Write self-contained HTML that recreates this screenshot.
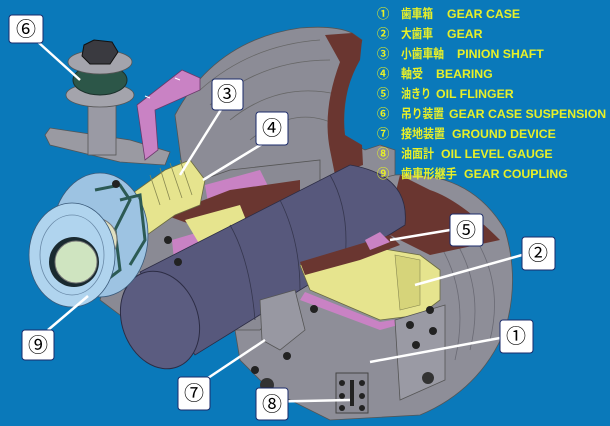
<!DOCTYPE html>
<html><head><meta charset="utf-8"><style>
html,body{margin:0;padding:0;background:#0a79ba;}
svg{display:block}
.lg{font-family:"Liberation Sans","Noto Sans CJK JP",sans-serif;font-weight:bold;font-size:12.3px;fill:#e8f028}
.bx{fill:#fff;stroke:#1a2a6a;stroke-width:1}
.bn{font-family:"Liberation Sans","Noto Sans CJK JP",sans-serif;font-size:20px;fill:#000;text-anchor:middle}
</style></head><body>
<svg width="610" height="426" viewBox="0 0 610 426" xmlns="http://www.w3.org/2000/svg">
<rect width="610" height="426" fill="#0a79ba"/>
<path d="M175,115 Q215,40 300,28 Q335,25 352,33 L362,40 L357,60 Q340,100 345,140 L365,150 L380,145 L395,150 L395,200 L330,260 L200,300 Z" fill="#8c8c96" stroke="#555" stroke-width="0.8"/>
<path d="M200,90 Q250,45 320,40 M210,105 Q260,60 330,60 M230,120 Q280,80 340,95 M250,140 Q300,100 345,130" stroke="#666" fill="none" stroke-width="0.8"/>
<path d="M325,35 L352,33 L362,40 L360,60 Q340,95 345,135 L362,145 L363,165 L335,175 L330,150 Q322,110 340,62 Z" fill="#6a3630"/>
<path d="M330,190 L395,175 Q470,170 505,230 Q520,280 505,330 Q480,390 420,415 L330,420 L270,390 L240,360 L230,300 Z" fill="#8e8e98" stroke="#555" stroke-width="0.8"/>
<path d="M470,230 Q505,280 490,340 M455,240 Q485,290 470,350 M440,245 Q470,295 455,360" stroke="#6a6a74" fill="none" stroke-width="0.8"/>
<path d="M400,175 L430,190 Q460,200 500,240 L430,255 L380,230 L395,195 Z" fill="#6a3630"/>
<path d="M130,205 L230,170 L320,160 L320,260 L260,330 L140,330 L100,300 Z" fill="#8a8a94" stroke="#555" stroke-width="0.8"/>
<path d="M45,135 L50,128 L130,140 L170,152 L165,165 L120,162 L50,145 Z" fill="#9a9aa2" stroke="#555" stroke-width="0.8"/>
<rect x="88" y="100" width="28" height="55" fill="#9a9aa4" stroke="#555" stroke-width="0.8"/>
<ellipse cx="100" cy="95" rx="34" ry="12" fill="#a4a4ac" stroke="#555" stroke-width="0.8"/>
<ellipse cx="100" cy="80" rx="27" ry="15" fill="#2c5648" stroke="#1b2f2a"/>
<ellipse cx="100" cy="62" rx="32" ry="12" fill="#a4a4ac" stroke="#555" stroke-width="0.8"/>
<path d="M84,45 L94,40 L112,42 L118,52 L110,64 L90,64 L82,56 Z" fill="#3a3a40" stroke="#111"/>
<path d="M137,105 L182,70 L200,78 L200,90 L155,110 L158,150 L145,160 Z" fill="#c982c4" stroke="#6a3a6a" stroke-width="0.8"/>
<path d="M145,96 L150,98 M175,78 L180,80" stroke="#fff"/>
<path d="M205,185 L260,170 L270,190 L210,215 Z" fill="#c982c4"/>
<path d="M172,240 L240,220 L260,225 L200,260 L175,270 Z" fill="#c982c4"/>
<path d="M165,215 L230,190 L300,180 L300,215 L220,235 Z" fill="#6a3630"/>
<path d="M130,195 L165,170 L190,160 L205,180 L200,205 L175,215 L140,240 L115,235 Z" fill="#e6e48e" stroke="#6a6a40" stroke-width="0.8"/>
<path d="M150,175 L160,205 M160,168 L170,200 M170,163 L182,198 M180,160 L192,195" stroke="#888850" stroke-width="0.8"/>
<path d="M185,220 L240,205 L250,230 L200,245 Z" fill="#e6e48e"/>
<path d="M140,272 L350,165 Q410,175 405,225 L195,355 Z" fill="#57587c" stroke="#2c2c44" stroke-width="0.8"/>
<path d="M230,225 Q250,260 255,320 M280,200 Q300,240 300,290 M330,175 Q350,210 345,260" stroke="#35364e" fill="none" stroke-width="0.8"/>
<ellipse cx="160" cy="320" rx="38" ry="50" transform="rotate(-20 160 320)" fill="#5b5c80" stroke="#2c2c44"/>
<path d="M300,265 L330,255 L360,245 L390,250 L420,255 L440,270 L440,300 L420,315 L380,320 L345,305 L310,290 Z" fill="#e6e48e" stroke="#6a6a40" stroke-width="0.8"/>
<path d="M395,255 L420,260 L420,305 L400,310 Z" fill="#d6d47a" stroke="#888850" stroke-width="0.6"/>
<path d="M300,262 L340,250 L390,235 L400,245 L360,260 L305,275 Z" fill="#6a3630"/>
<path d="M365,240 L380,232 L390,242 L370,250 Z" fill="#c982c4"/>
<path d="M305,292 L345,308 L380,322 L425,315 L445,305 L445,312 L380,330 L300,300 Z" fill="#c982c4"/>
<path d="M395,320 L445,305 L445,380 L400,400 Z" fill="#9a9aa4" stroke="#555" stroke-width="0.8"/>
<circle cx="430" cy="310" r="4" fill="#222"/><circle cx="410" cy="325" r="4" fill="#222"/><circle cx="416" cy="345" r="4" fill="#222"/><circle cx="433" cy="331" r="4" fill="#222"/>
<circle cx="428" cy="378" r="6" fill="#333"/>
<path d="M260,300 L295,290 L305,330 L280,350 L262,340 Z" fill="#9898a2" stroke="#555" stroke-width="0.8"/>
<circle cx="287" cy="356" r="4" fill="#222"/><circle cx="314" cy="309" r="4" fill="#222"/><circle cx="255" cy="370" r="4" fill="#222"/>
<circle cx="267" cy="385" r="7" fill="#333"/>
<rect x="336" y="373" width="32" height="40" fill="#8a8a94" stroke="#444"/>
<rect x="350" y="380" width="4" height="26" fill="#222"/>
<circle cx="342" cy="383" r="3" fill="#222"/><circle cx="342" cy="396" r="3" fill="#222"/><circle cx="342" cy="408" r="3" fill="#222"/><circle cx="362" cy="383" r="3" fill="#222"/><circle cx="362" cy="396" r="3" fill="#222"/><circle cx="362" cy="408" r="3" fill="#222"/>
<ellipse cx="100" cy="235" rx="48" ry="62" fill="#9dc3e2" stroke="#3a5a7a" stroke-width="0.8"/>
<path d="M95,190 L120,185 L130,200 L115,230 L120,270 L100,285" stroke="#2c5a54" stroke-width="3" fill="none"/>
<path d="M120,200 L140,195 L145,240 L130,265" stroke="#2c5a54" stroke-width="3" fill="none"/>
<circle cx="95" cy="240" r="22" fill="#e0e0c0" stroke="#777"/>
<ellipse cx="72" cy="255" rx="43" ry="52" fill="#b0d4ee" stroke="#3a5a7a" stroke-width="0.8"/>
<ellipse cx="72" cy="255" rx="32" ry="40" fill="none" stroke="#6a8aa8" stroke-width="0.8"/>
<circle cx="74" cy="262" r="25" fill="#1a2a30"/>
<circle cx="76" cy="262" r="21" fill="#cfe4c0" stroke="#777"/>
<circle cx="116" cy="184" r="4" fill="#222"/><circle cx="168" cy="240" r="4" fill="#222"/><circle cx="178" cy="262" r="4" fill="#222"/>
<g stroke="#fff" stroke-width="2.5" fill="none">
<path d="M38,42 L80,80"/>
<path d="M222,108 L180,175"/>
<path d="M262,144 L203,180"/>
<path d="M450,230 L390,240"/>
<path d="M522,255 L415,285"/>
<path d="M500,338 L370,362"/>
<path d="M48,330 L88,296"/>
<path d="M205,380 L265,340"/>
<path d="M256,402 L350,400"/>
</g>
<g>
<rect class="bx" x="9" y="15" width="34" height="28" rx="3"/><text class="bn" x="26" y="36">⑥</text>
<rect class="bx" x="212" y="79" width="31" height="31" rx="3"/><text class="bn" x="227" y="101">③</text>
<rect class="bx" x="256" y="112" width="32" height="33" rx="3"/><text class="bn" x="272" y="135">④</text>
<rect class="bx" x="450" y="214" width="33" height="32" rx="3"/><text class="bn" x="466" y="237">⑤</text>
<rect class="bx" x="522" y="237" width="33" height="33" rx="3"/><text class="bn" x="538" y="260">②</text>
<rect class="bx" x="500" y="320" width="33" height="33" rx="3"/><text class="bn" x="516" y="343">①</text>
<rect class="bx" x="22" y="330" width="32" height="30" rx="3"/><text class="bn" x="38" y="352">⑨</text>
<rect class="bx" x="178" y="377" width="32" height="33" rx="3"/><text class="bn" x="194" y="400">⑦</text>
<rect class="bx" x="256" y="388" width="32" height="32" rx="3"/><text class="bn" x="272" y="411">⑧</text>
</g>
<g class="lg">
<text x="377" y="18">①</text><text x="401" y="18" textLength="32" lengthAdjust="spacingAndGlyphs">歯車箱</text><text x="447" y="18">GEAR CASE</text>
<text x="377" y="38">②</text><text x="401" y="38" textLength="32" lengthAdjust="spacingAndGlyphs">大歯車</text><text x="447" y="38">GEAR</text>
<text x="377" y="58">③</text><text x="401" y="58" textLength="43" lengthAdjust="spacingAndGlyphs">小歯車軸</text><text x="457" y="58">PINION SHAFT</text>
<text x="377" y="78">④</text><text x="401" y="78" textLength="22" lengthAdjust="spacingAndGlyphs">軸受</text><text x="436" y="78">BEARING</text>
<text x="377" y="98">⑤</text><text x="401" y="98" textLength="30" lengthAdjust="spacingAndGlyphs">油きり</text><text x="436" y="98">OIL FLINGER</text>
<text x="377" y="118">⑥</text><text x="401" y="118" textLength="43" lengthAdjust="spacingAndGlyphs">吊り装置</text><text x="449" y="118">GEAR CASE SUSPENSION</text>
<text x="377" y="138">⑦</text><text x="401" y="138" textLength="44" lengthAdjust="spacingAndGlyphs">接地装置</text><text x="452" y="138">GROUND DEVICE</text>
<text x="377" y="158">⑧</text><text x="401" y="158" textLength="33" lengthAdjust="spacingAndGlyphs">油面計</text><text x="441" y="158">OIL LEVEL GAUGE</text>
<text x="377" y="178">⑨</text><text x="401" y="178" textLength="56" lengthAdjust="spacingAndGlyphs">歯車形継手</text><text x="464" y="178">GEAR COUPLING</text>
</g>
</svg>
</body></html>
